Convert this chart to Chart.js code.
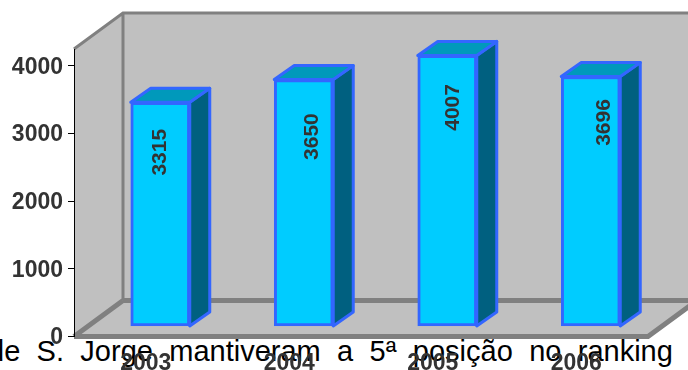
<!DOCTYPE html>
<html>
<head>
<meta charset="utf-8">
<script src="https://cdn.jsdelivr.net/npm/chart.js@4"></script>
<style>
    html, body { margin: 0; padding: 0; background: #fff; overflow: hidden; }
    #wrap { position: relative; width: 688px; height: 370px; overflow: hidden; }
    #caption {
        position: absolute; left: -12px; top: 335px; white-space: nowrap;
        font: 29px "Liberation Sans", Arial, sans-serif; color: #000; word-spacing: 8.3px;
    }
    canvas { position: absolute; left: 0; top: 0; }
</style>
</head>
<body>
<div id="wrap">
    <div id="caption">de S. Jorge mantiveram a 5ª posição no ranking n</div>
    <canvas id="chart" width="688" height="370"></canvas>
</div>
<script>
const years = ['2003', '2004', '2005', '2006'];
const values = [3315, 3650, 4007, 3696];
const yTicks = [0, 1000, 2000, 3000, 4000];

// hand-placed value labels: shift from bar centre / distance below bar top
const labelShiftX = [0, 8, 6, 13];
const labelDropY = [50, 57, 52, 46];

const FONT = '"Liberation Sans", Arial, sans-serif';
const WALL = '#c0c0c0';
const EDGE = '#808080';
const DEPTH_X = 49, DEPTH_Y = 36;      // box depth
const BAR_DX = 14.5, BAR_DY = 10;      // bars stand inside the floor
const BAR_DEPTH_X = 20, BAR_DEPTH_Y = 14;

function poly(ctx, pts, fill, stroke, width) {
    ctx.beginPath();
    pts.forEach((p, i) => i ? ctx.lineTo(p[0], p[1]) : ctx.moveTo(p[0], p[1]));
    ctx.closePath();
    if (fill) { ctx.fillStyle = fill; ctx.fill(); }
    if (stroke) {
        ctx.strokeStyle = stroke;
        ctx.lineWidth = width;
        ctx.lineJoin = 'round';
        ctx.stroke();
    }
}

// Walls and floor of the 3D box
const boxPlugin = {
    id: 'box',
    beforeDraw(chart) {
        const { ctx, chartArea: a } = chart;
        const bx = a.left + DEPTH_X, by = a.bottom - DEPTH_Y, ty = a.top - DEPTH_Y;
        ctx.save();
        poly(ctx, [[bx, ty], [a.right + DEPTH_X, ty], [a.right + DEPTH_X, by], [bx, by]], WALL);
        poly(ctx, [[a.left, a.top], [bx, ty], [bx, by], [a.left, a.bottom]], WALL);
        poly(ctx, [[a.left, a.bottom], [bx, by], [a.right + DEPTH_X, by], [a.right, a.bottom]], WALL);

        ctx.strokeStyle = EDGE;
        ctx.lineCap = 'butt';
        ctx.lineWidth = 3;
        ctx.beginPath();
        ctx.moveTo(a.left, a.top);
        ctx.lineTo(bx, ty);
        ctx.lineTo(a.right + DEPTH_X, ty);
        ctx.moveTo(bx, ty);
        ctx.lineTo(bx, by);
        ctx.stroke();

        ctx.lineWidth = 5;
        ctx.beginPath();
        ctx.moveTo(bx, by);
        ctx.lineTo(a.right + DEPTH_X, by);
        ctx.moveTo(a.left, a.bottom);
        ctx.lineTo(bx, by);
        ctx.moveTo(a.left, a.bottom);
        ctx.lineTo(a.right, a.bottom);
        ctx.lineTo(a.right + DEPTH_X, by);
        ctx.stroke();
        ctx.restore();
    },
    // bars are shifted into the box, then get their side and top faces
    beforeDatasetDraw(chart) {
        chart.ctx.save();
        chart.ctx.translate(BAR_DX, -BAR_DY);
    },
    afterDatasetDraw(chart, args) {
        const ctx = chart.ctx;
        args.meta.data.forEach((bar, i) => {
            const { x, y, base, width } = bar.getProps(['x', 'y', 'base', 'width'], true);
            const l = x - width / 2, r = x + width / 2;
            const dx = BAR_DEPTH_X, dy = BAR_DEPTH_Y;
            poly(ctx, [[r, y], [r + dx, y - dy], [r + dx, base - dy], [r, base]], '#006080', '#3366ff', 3);
            poly(ctx, [[l, y], [l + dx, y - dy], [r + dx, y - dy], [r, y]], '#0099bb', '#3366ff', 3);

            ctx.save();
            ctx.translate(x + labelShiftX[i], y + labelDropY[i]);
            ctx.rotate(-Math.PI / 2);
            ctx.fillStyle = '#333333';
            ctx.font = 'bold 21px ' + FONT;
            ctx.textAlign = 'center';
            ctx.textBaseline = 'middle';
            ctx.fillText(String(values[i]), 0, 0);
            ctx.restore();
        });
        ctx.restore();
    }
};

new Chart(document.getElementById('chart'), {
    type: 'bar',
    data: {
        labels: years,
        datasets: [{
            data: values,
            backgroundColor: '#00ccff',
            borderColor: '#3366ff',
            borderWidth: 3,
            borderSkipped: false,
            barThickness: 59
        }]
    },
    options: {
        responsive: false,
        animation: false,
        layout: { padding: { top: 49, right: 40, left: 0, bottom: 0 } },
        plugins: { legend: { display: false }, tooltip: { enabled: false } },
        scales: {
            x: {
                afterFit(axis) { axis.height = 33.5; },
                grid: { display: false },
                border: { display: false },
                ticks: {
                    padding: 5,
                    maxRotation: 0,
                    color: '#333333',
                    font: { family: FONT, size: 23, weight: 'bold' }
                }
            },
            y: {
                min: 0,
                max: 4250,
                afterFit(axis) { axis.width = 74; },
                // top of the box is not a round value, so the ticks are listed
                afterBuildTicks(axis) { axis.ticks = yTicks.map(v => ({ value: v })); },
                grid: { drawOnChartArea: false, color: '#000', tickLength: 6 },
                border: { color: '#000', width: 1 },
                ticks: {
                    padding: 5,
                    labelOffset: 1.5,
                    color: '#333333',
                    callback: v => String(v),
                    font: { family: FONT, size: 23, weight: 'bold' }
                }
            }
        }
    },
    plugins: [boxPlugin]
});
</script>
</body>
</html>
